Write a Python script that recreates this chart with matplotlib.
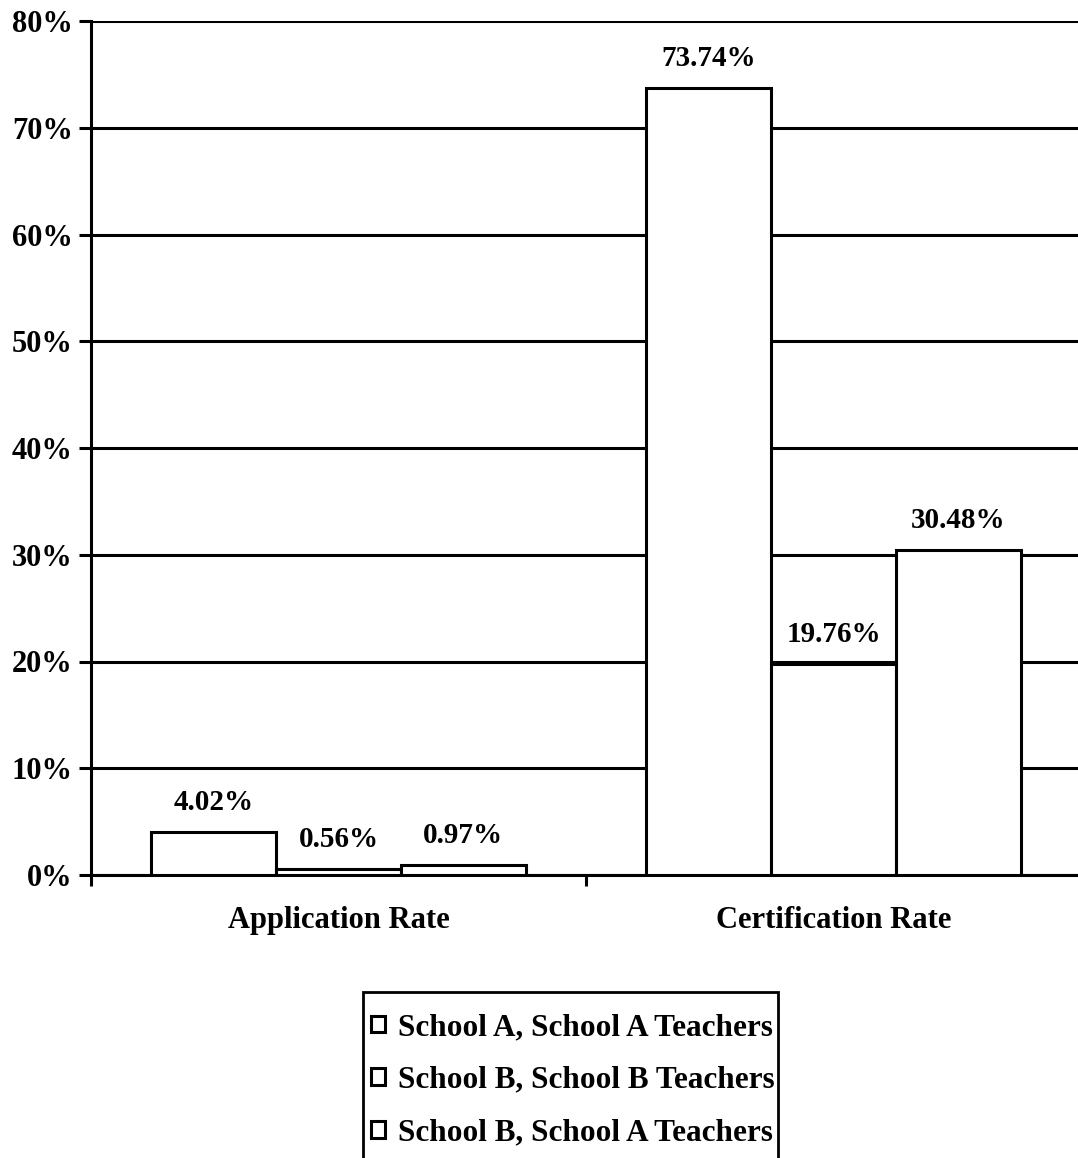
import matplotlib

matplotlib.use("Agg")

import matplotlib.pyplot as plt
import numpy as np
from matplotlib.patches import Patch, Rectangle

categories = ["Application Rate", "Certification Rate"]
series_names = [
    "School A, School A Teachers",
    "School B, School B Teachers",
    "School B, School A Teachers",
]
school_a_a = [4.02, 73.74]
school_b_b = [0.56, 19.76]
school_b_a = [0.97, 30.48]
y_ticks = [0, 10, 20, 30, 40, 50, 60, 70, 80]

plt.rcParams["font.family"] = ["Liberation Serif", "DejaVu Serif"]
plt.rcParams["font.weight"] = "bold"

W, H = 1078, 1158
FS = 22
fig = plt.figure(figsize=(W / 100, H / 100), dpi=100)
ax = fig.add_axes([91 / W, 1 - 875 / H, 990 / W, (875 - 21) / H])

x = np.arange(len(categories))
width = 0.252
series = [school_a_a, school_b_b, school_b_a]

ax.set_axisbelow(True)
ax.yaxis.grid(True, color="black", linewidth=2.2)
for i, (name, vals) in enumerate(zip(series_names, series)):
    pos = x + (i - 1) * width
    bars = ax.bar(pos, vals, width, color="white", edgecolor="black", linewidth=2.2, label=name, zorder=3)
    for b, v in zip(bars, vals):
        ax.text(b.get_x() + b.get_width() / 2, v + 1.5, f"{v:.2f}%", ha="center", va="bottom",
                fontsize=FS - 1, fontweight="bold", zorder=4)

ax.set_xlim(-0.5, 1.5)
ax.set_ylim(0, 80)
ax.set_yticks(y_ticks)
ax.set_yticklabels([f"{t}%" for t in y_ticks])
ax.set_xticks(x)
ax.set_xticklabels(categories)
ax.set_xticks([-0.5, 0.5, 1.5], minor=True)
ax.tick_params(axis="x", which="major", length=0, pad=22, labelsize=FS)
ax.tick_params(axis="x", which="minor", length=8, width=2.2, direction="out")
ax.tick_params(axis="y", length=9, width=2.2, pad=4, labelsize=FS)
for lbl in ax.get_xticklabels() + ax.get_yticklabels():
    lbl.set_fontweight("bold")

for side in ["top", "right"]:
    ax.spines[side].set_visible(False)
ax.spines["left"].set_linewidth(2.2)
ax.spines["bottom"].set_linewidth(2.2)

# legend box runs off the bottom edge of the figure
fig.patches.append(Rectangle((363 / W, -0.02), (778 - 363) / W, (H - 992) / H + 0.02,
                             transform=fig.transFigure, fill=False, edgecolor="black", linewidth=2))

handles = [Patch(facecolor="white", edgecolor="black", linewidth=2.2) for _ in series_names]
leg = fig.legend(handles, series_names, loc="upper left", bbox_to_anchor=(371 / W, 1 - 1013 / H),
                 frameon=False, fontsize=FS + 0.5,
                 handlelength=0.44, handleheight=0.44, handletextpad=0.42,
                 labelspacing=0.76, borderpad=0, borderaxespad=0)
for t in leg.get_texts():
    t.set_fontweight("bold")

fig.savefig("out.png", dpi=100)
